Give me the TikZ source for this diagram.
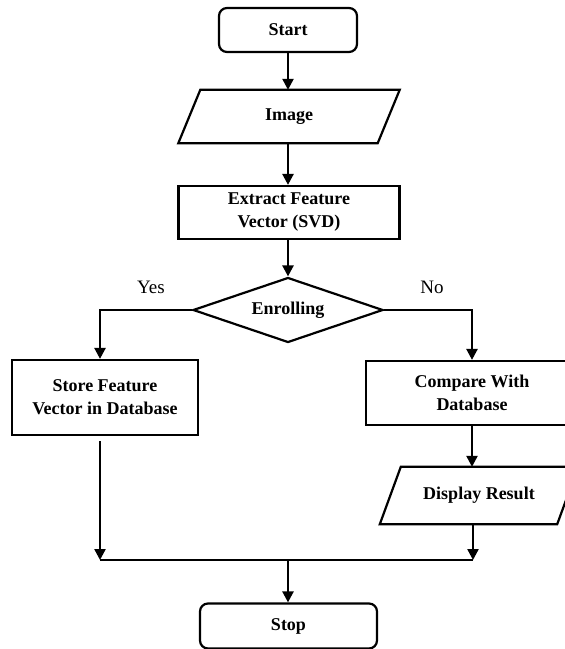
\documentclass[tikz,border=0pt]{standalone}
\usepackage{fontspec}
\setmainfont{Liberation Serif}
\usetikzlibrary{arrows.meta,shapes.geometric,calc}
\begin{document}
\begin{tikzpicture}[x=1pt,y=-1pt,
  txt/.style={inner sep=0pt,align=center,font=\fontsize{18}{23}\selectfont\bfseries},
  box/.style={txt,draw,line width=2.2pt},
  term/.style={box,rounded corners=8pt},
  io/.style={txt},
  decision/.style={txt,draw,line width=2.2pt,diamond,shape aspect=3},
  lbl/.style={inner sep=0pt,font=\fontsize{19}{22}\selectfont},
  conn/.style={line width=2.4pt,-{Triangle[length=11pt,width=11pt]}},
  thin/.style={line width=1.2pt},
  para/.style={draw,line width=2.2pt,line join=miter}]
\clip (0,0) rectangle (565,649);
\fill[white] (0,0) rectangle (565,649);

\node[term,minimum width=138pt,minimum height=44pt] (start) at (288,30) {Start};
\node[io,minimum width=199pt,minimum height=53pt] (img) at (289,116.5) {Image};
\node[box,minimum width=221pt,minimum height=53pt] (ext) at (289,212.5) {Extract Feature\\Vector (SVD)};
\node[decision,minimum width=190pt,minimum height=65pt] (dec) at (288,310) {Enrolling};
\node[box,minimum width=186pt,minimum height=75pt] (store) at (105,397.5) {Store Feature\\Vector in Database};
\node[box,minimum width=212pt,minimum height=64pt] (cmp) at (472,393) {Compare With\\Database};
\node[io,minimum width=177pt,minimum height=57pt] (disp) at (479,495.5) {Display Result};
\node[term,minimum width=177pt,minimum height=45pt] (stop) at (288.5,626) {Stop};

\draw[para] ($(img.north west)+(11,0)$) -- ($(img.north east)+(11,0)$) -- ($(img.south east)+(-11,0)$) -- ($(img.south west)+(-11,0)$) -- cycle;
\draw[para] ($(disp.north west)+(10.5,0)$) -- ($(disp.north east)+(10.5,0)$) -- ($(disp.south east)+(-10.5,0)$) -- ($(disp.south west)+(-10.5,0)$) -- cycle;

\node[lbl] (yes) at (151,287) {Yes};
\node[lbl] (no) at (432,287) {No};

\coordinate (sL) at (100,441);
\coordinate (mL) at (100,560);
\coordinate (mR) at (473,560);
\coordinate (mC) at (288,560);

\draw[conn] (start.south) -- (start.south |- img.north);
\draw[conn] (start.south |- img.south) -- (start.south |- ext.north);
\draw[conn] (start.south |- ext.south) -- (dec.north);
\draw[conn] (dec.west) -| ([xshift=-5pt]store.north);
\draw[conn] (dec.east) -| (cmp.north);
\draw[conn] (cmp.south) -- (cmp.south |- disp.north);
\draw[conn] (mR |- disp.south) -- (mR);
\draw[conn] (sL) -- (mL);
\draw[thin] (mL) -- (mR);
\draw[conn] (mC) -- (mC |- stop.north);
\end{tikzpicture}
\end{document}
